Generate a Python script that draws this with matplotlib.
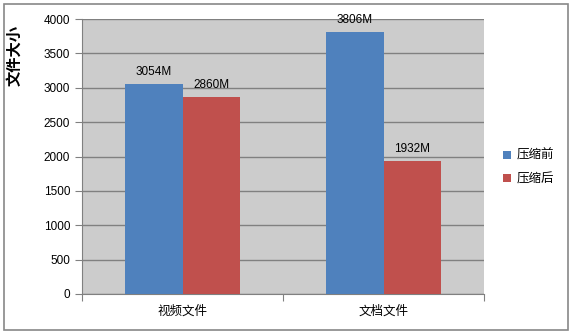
import matplotlib
matplotlib.use("Agg")
import matplotlib.pyplot as plt
import matplotlib.patches as patches
import numpy as np

plt.rcParams['font.family'] = ['Liberation Sans', 'Noto Sans CJK SC']

# data
categories = ["视频文件", "文档文件"]
series_names = ["压缩前", "压缩后"]
before = [3054, 3806]
after = [2860, 1932]
colors = ["#4F81BD", "#C0504D"]

fig = plt.figure(figsize=(5.76, 3.36), dpi=100)
ax = fig.add_axes([82 / 576, 1 - 294 / 336, 402 / 576, 275 / 336])
ax.set_facecolor("#CCCCCC")

# outer chart border
fig.patches.append(patches.Rectangle((4 / 576, 6 / 336), 564 / 576, 326 / 336,
                                     transform=fig.transFigure, fill=False,
                                     edgecolor="#888888", linewidth=1.2))

x = np.arange(len(categories))
w = 0.285
b1 = ax.bar(x - w / 2, before, w, color=colors[0], label=series_names[0], zorder=3)
b2 = ax.bar(x + w / 2, after, w, color=colors[1], label=series_names[1], zorder=3)

for bars in (b1, b2):
    for r in bars:
        ax.text(r.get_x() + r.get_width() / 2, r.get_height() + 90,
                f"{int(r.get_height())}M", ha="center", va="bottom", fontsize=8.5)

ax.set_xlim(-0.5, 1.5)
ax.set_ylim(0, 4000)
ax.set_yticks(range(0, 4001, 500))
ax.yaxis.grid(True, color="#808080", linewidth=1, zorder=0)
ax.set_xticks([-0.5, 0.5, 1.5])
ax.set_xticklabels([])
ax.set_xticks(x, minor=True)
ax.set_xticklabels(categories, minor=True, fontsize=9)
ax.tick_params(axis="x", which="minor", length=0, pad=8)
ax.tick_params(axis="x", which="major", length=5, color="#808080")
ax.tick_params(axis="y", length=5, color="#808080", labelsize=8.5)

for s in ["top", "right"]:
    ax.spines[s].set_visible(False)
for s in ["left", "bottom"]:
    ax.spines[s].set_color("#808080")

fig.text(15 / 576, 1 - 55 / 336, "文件大小", rotation=90, ha="center", va="center",
         fontsize=11, fontweight="bold")

ax.legend(loc="center left", bbox_to_anchor=(1.02, 0.46), frameon=False,
          fontsize=9, handlelength=0.6, handleheight=0.6, handletextpad=0.5,
          labelspacing=0.9)

fig.savefig("out.png", dpi=100)
